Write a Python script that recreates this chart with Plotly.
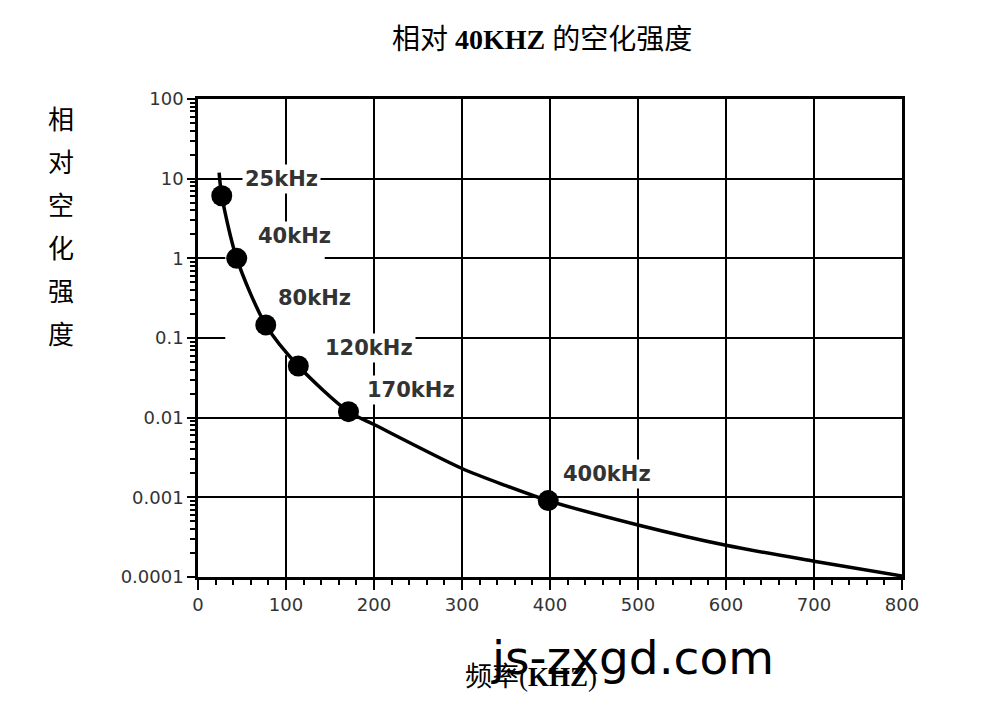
import numpy as np
import plotly.graph_objects as go

# Curve (frequency kHz, relative intensity)
curve_x = [24, 27, 44, 77, 114, 171, 200, 300, 350, 398, 500, 600, 700, 800]
curve_y = [11.9, 6.1, 1.0, 0.146, 0.0445, 0.0119, 0.0082, 0.0023, 0.0014,
           0.00091, 0.00045, 0.00025, 0.000158, 0.000103]

# Marked points
point_x = [27, 44, 77, 114, 171, 398]
point_y = [6.1, 1.0, 0.146, 0.0445, 0.0119, 0.00091]
point_labels = ["25kHz", "40kHz", "80kHz", "120kHz", "170kHz", "400kHz"]
label_x = [50, 65, 88, 141, 189, 411]
label_y = [10, 1.92, 0.316, 0.0748, 0.0222, 0.00195]

y_tickvals = [100, 10, 1, 0.1, 0.01, 0.001, 0.0001]
y_ticktext = ["100", "10", "1", "0.1", "0.01", "0.001", "0.0001"]
x_tickvals = [0, 100, 200, 300, 400, 500, 600, 700, 800]

title_text = "相对 <b>40KHZ</b> 的空化强度"
ytitle_chars = ["相", "对", "空", "化", "强", "度"]
xtitle_text = "频率(<b>KHZ</b>)"
watermark = "js-zxgd.com"

# screen-pixel layout of the plot area (page body has an 8px margin)
OFF = 8
L, R, T, B = 198, 902, 99, 577
W, H = 984 - OFF, 706 - OFF
def px(x):
    return (x - L) / (R - L)
def py(y):
    return (B - y) / (B - T)

fig = go.Figure()
fig.add_trace(go.Scatter(x=curve_x, y=curve_y, mode="lines",
                         line=dict(color="black", width=3.5, shape="spline", smoothing=0.8),
                         hoverinfo="skip", showlegend=False))
fig.add_trace(go.Scatter(x=point_x, y=point_y, mode="markers",
                         marker=dict(color="black", size=21),
                         showlegend=False))

# white masks where the original's labels interrupt grid lines (drawn above grid, below data)
masks = [
    (31, 144, 1.15, 27),
    (88, 112, 0.153, 0.69),
    (133, 250, 0.085, 0.115),
    (190, 210, 0.0075, 0.109),
    (178, 298, 0.0087, 0.0115),
    (490, 510, 0.00106, 0.0042),
]
shapes = [dict(type="rect", xref="x", yref="y", x0=a, x1=b, y0=np.log10(c), y1=np.log10(d),
               fillcolor="white", line=dict(width=0), layer="between") for a, b, c, d in masks]

annotations = []
for lx, ly, t in zip(label_x, label_y, point_labels):
    annotations.append(dict(x=lx, y=np.log10(ly), xref="x", yref="y", text=t,
                            showarrow=False, xanchor="left", yanchor="middle",
                            bgcolor="white", borderpad=2,
                            font=dict(family="DejaVu Sans", size=21, color="#333333", weight="bold")))

annotations.append(dict(x=px(542), y=py(40), xref="paper", yref="paper", text=title_text,
                        showarrow=False, xanchor="center", yanchor="middle",
                        font=dict(family="Liberation Serif, Noto Sans CJK SC", size=28, color="black")))
for i, ch in enumerate(ytitle_chars):
    annotations.append(dict(x=px(61), y=py(117 + 43 * i), xref="paper", yref="paper", text=ch,
                            showarrow=False, xanchor="center", yanchor="middle",
                            font=dict(family="Noto Sans CJK SC", size=26, color="black")))
annotations.append(dict(x=px(531), y=py(677), xref="paper", yref="paper", text=xtitle_text,
                        showarrow=False, xanchor="center", yanchor="middle",
                        font=dict(family="Liberation Serif, Noto Sans CJK SC", size=27, color="black")))
annotations.append(dict(x=px(632), y=py(657), xref="paper", yref="paper", text=watermark,
                        showarrow=False, xanchor="center", yanchor="middle",
                        font=dict(family="DejaVu Sans", size=47, color="black")))

fig.update_layout(
    width=W, height=H,
    margin=dict(l=L - OFF, r=984 - R, t=T - OFF, b=706 - B, pad=0),
    paper_bgcolor="white", plot_bgcolor="white",
    annotations=annotations, shapes=shapes,
    showlegend=False,
)
fig.update_xaxes(range=[0, 800], tickvals=x_tickvals, showgrid=True, gridcolor="black", gridwidth=2,
                 showline=True, linecolor="black", linewidth=2.5, mirror=True,
                 ticks="outside", ticklen=10, tickwidth=2, tickcolor="black",
                 minor=dict(dtick=20, ticks="outside", ticklen=5, tickwidth=1.5, tickcolor="black", showgrid=False),
                 tickfont=dict(family="DejaVu Sans", size=18, color="#333333"),
                 zeroline=False)
fig.update_yaxes(type="log", range=[-4, 2], tickvals=y_tickvals, ticktext=y_ticktext,
                 showgrid=True, gridcolor="black", gridwidth=2,
                 showline=True, linecolor="black", linewidth=2.5, mirror=True,
                 ticks="outside", ticklen=8, tickwidth=2, tickcolor="black",
                 minor=dict(dtick="D1", ticks="outside", ticklen=5, tickwidth=1.5, tickcolor="black", showgrid=False),
                 tickfont=dict(family="DejaVu Sans", size=18, color="#333333"),
                 zeroline=False)

fig.write_html("out.html")
